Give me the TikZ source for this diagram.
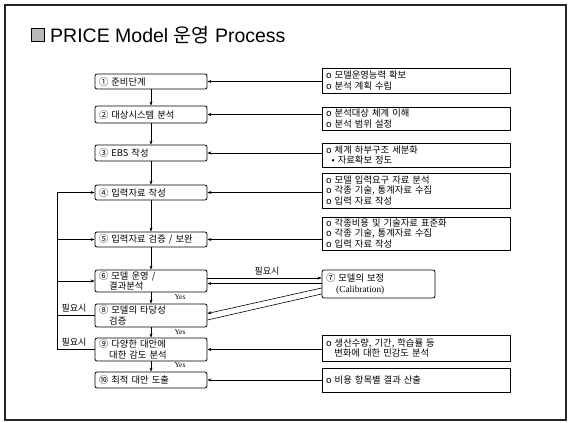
\documentclass[tikz,border=0pt]{standalone}
\usepackage{fontspec}
\setmainfont{Liberation Sans}
\newfontfamily\kr{Noto Sans CJK KR}
\newfontfamily\srf{Liberation Serif}
\usetikzlibrary{arrows.meta}
\begin{document}
\begin{tikzpicture}[x=1pt,y=-1pt,
  lbox/.style={draw, rounded corners=2pt, line width=0.8pt, minimum width=112pt, text width=104pt,
    align=left, inner xsep=4pt, inner ysep=0.5pt, font=\kr\fontsize{9.3}{10.8}\selectfont},
  rbox/.style={draw, line width=0.8pt, minimum width=188pt, text width=180pt,
    align=left, inner xsep=4pt, inner ysep=0.5pt, font=\kr\fontsize{9.3}{10.8}\selectfont},
  conn/.style={line width=0.6pt, -{Stealth[length=4pt,width=3pt]}},
  plain/.style={line width=0.6pt},
  lbl/.style={font=\kr\fontsize{9}{10}\selectfont, inner sep=0pt},
  yes/.style={font=\srf\fontsize{7.5}{8}\selectfont, inner sep=0pt},
]
\useasboundingbox (0,0) rectangle (568,423);
\draw[line width=1.3pt, black!85] (5,5) rectangle (566,420);

% title
\node[draw, fill=gray!55, line width=0.8pt, minimum size=13.5pt, inner sep=0pt] (sq) at (38,35) {};
\node[anchor=west, inner sep=0pt, font=\fontsize{19.5}{21}\selectfont] (title) at (50,35)
  {PRICE Model {\kr 운영} Process};

% left column
\node[lbox, minimum height=15pt] (L1) at (151,81.5) {① 준비단계};
\node[lbox, minimum height=17pt] (L2) at (151,114.5) {② 대상시스템 분석};
\node[lbox, minimum height=16pt] (L3) at (151,153) {③ EBS 작성};
\node[lbox, minimum height=15pt] (L4) at (151,192.5) {④ 입력자료 작성};
\node[lbox, minimum height=15pt] (L5) at (151,239.5) {⑤ 입력자료 검증 / 보완};
\node[lbox, minimum height=22pt] (L6) at (151,281) {⑥ 모델 운영 /\\\hspace*{1.1em}결과분석};
\node[lbox, minimum height=23pt] (L8) at (151,315.5) {⑧ 모델의 타당성\\\hspace*{1.1em}검증};
\node[lbox, minimum height=23pt] (L9) at (151,349.5) {⑨ 다양한 대안에\\\hspace*{1.1em}대한 감도 분석};
\node[lbox, minimum height=16pt] (L10) at (151,380) {⑩ 최적 대안 도출};

% right column
\node[rbox, minimum height=25pt] (R1) at (416,80.5) {o 모델운영능력 확보\\o 분석 계획 수립};
\node[rbox, minimum height=23pt] (R2) at (416,118.5) {o 분석대상 체계 이해\\o 분석 범위 설정};
\node[rbox, minimum height=24pt] (R3) at (416,155) {o 체계 하부구조 세분화\\\hspace*{0.6em}• 자료확보 정도};
\node[rbox, minimum height=35pt] (R4) at (416,190.5) {o 모델 입력요구 자료 분석\\o 각종 기술, 통계자료 수집\\o 입력 자료 작성};
\node[rbox, minimum height=33pt] (R5) at (416,233.5) {o 각종비용 및 기술자료 표준화\\o 각종 기술, 통계자료 수집\\o 입력 자료 작성};
\node[lbox, minimum width=113pt, text width=105pt, minimum height=28pt] (Cal) at (378.5,284)
  {⑦ 모델의 보정\\\hspace*{1.1em}{\srf (Calibration)}};
\node[rbox, minimum height=26pt] (R9) at (416,348) {o 생산수량, 기간, 학습률 등\\\hspace*{0.9em}변화에 대한 민감도 분석};
\node[rbox, minimum height=24pt] (R10) at (416,380) {o 비용 항목별 결과 산출};

% vertical flow
\draw[conn] (L1.south) -- (L2.north);
\draw[conn] (L2.south) -- (L3.north);
\draw[conn] (L3.south) -- (L4.north);
\draw[conn] (L4.south) -- (L5.north);
\draw[conn] (L5.south) -- (L6.north);
\draw[conn] (L6.south) -- (L8.north);
\draw[conn] (L8.south) -- (L9.north);
\draw[conn] (L9.south) -- (L10.north);
\node[yes] (y1) at (180,297.5) {Yes};
\node[yes] (y2) at (180,332) {Yes};
\node[yes] (y3) at (180,365) {Yes};

% right to left inputs
\draw[conn] (R1.west |- L1.east) -- (L1.east);
\draw[conn] (R2.west |- L2.east) -- (L2.east);
\draw[conn] (R3.west |- L3.east) -- (L3.east);
\draw[conn] (R4.west |- L4.east) -- (L4.east);
\draw[conn] (R5.west |- L5.east) -- (L5.east);
\draw[conn] (R9.west |- L9.east) -- (L9.east);
\draw[conn] (R10.west |- L10.east) -- (L10.east);

% calibration loop
\draw[conn] ([yshift=3pt]L6.east) -- ([yshift=3pt]L6.east -| Cal.west);
\draw[conn] ([yshift=-2.5pt]L6.east -| Cal.west) -- ([yshift=-2.5pt]L6.east);
\node[lbl] (need0) at (267,271) {필요시};
\draw[conn] ([yshift=-4pt]Cal.west) -- ([yshift=2pt]L8.east);
\draw[plain] ([yshift=-10pt]Cal.west) -- ([yshift=-4.5pt]L8.east);

% feedback
\coordinate (fbx) at (57,0);
\draw[conn] (L9.west) -- (L9.west -| fbx) -- (L4.west -| fbx) -- (L4.west);
\draw[conn] (L5.west -| fbx) -- (L5.west);
\draw[conn] (L6.west -| fbx) -- (L6.west);
\draw[plain] (L8.west) -- (L8.west -| fbx);
\node[lbl] (need1) at (74,308) {필요시};
\node[lbl] (need2) at (74,342) {필요시};
\end{tikzpicture}
\end{document}
